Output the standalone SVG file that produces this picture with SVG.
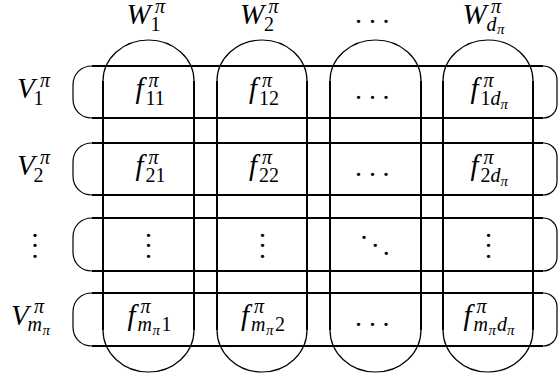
<svg xmlns="http://www.w3.org/2000/svg" width="558" height="378" viewBox="0 0 558 378">
<style>
.ln{stroke:#000;stroke-width:2;fill:none}
.cv{stroke:#000;stroke-width:1.2;fill:none}
text{font-family:"Liberation Serif","Times New Roman",serif;fill:#000}
.m{font-size:29px;font-style:italic}
.s{font-size:20px;font-style:italic}
.d{font-size:20px}
.ss{font-size:15px;font-style:italic}
.dot{font-size:28px;text-anchor:middle}
</style>
<rect width="558" height="378" fill="#fff"/>
<g id="connectors">
<g id="row1"><path class="ln" d="M92,66H543M92,118H543"/><path class="cv" d="M92,66C81,66 73,74 73,85V99C73,110 81,118 92,118M543,66C551,66 557,72 557,80V104C557,112 551,118 543,118"/></g>
<g id="row2"><path class="ln" d="M92,143H543M92,195H543"/><path class="cv" d="M92,143C81,143 73,151 73,162V176C73,187 81,195 92,195M543,143C551,143 557,149 557,157V181C557,189 551,195 543,195"/></g>
<g id="row3"><path class="ln" d="M92,218H543M92,271H543"/><path class="cv" d="M92,218C81,218 73,226 73,237V252C73,263 81,271 92,271M543,218C551,218 557,224 557,232V257C557,265 551,271 543,271"/></g>
<g id="row4"><path class="ln" d="M92,293H543M92,346H543"/><path class="cv" d="M92,293C81,293 73,301 73,312V327C73,338 81,346 92,346M543,293C551,293 557,299 557,307V332C557,340 551,346 543,346"/></g>
<g id="col1"><path class="ln" d="M103,81V330M194,81V330"/><path class="cv" d="M103,81A45.5,41 0 0 1 194,81M103,330A45.5,42 0 0 0 194,330"/></g>
<g id="col2"><path class="ln" d="M217,81V330M307,81V330"/><path class="cv" d="M217,81A45,41 0 0 1 307,81M217,330A45,42 0 0 0 307,330"/></g>
<g id="col3"><path class="ln" d="M330,81V330M421,81V330"/><path class="cv" d="M330,81A45.5,41 0 0 1 421,81M330,330A45.5,42 0 0 0 421,330"/></g>
<g id="col4"><path class="ln" d="M443,81V330M533,81V330"/><path class="cv" d="M443,81A45,41 0 0 1 533,81M443,330A45,42 0 0 0 533,330"/></g>
</g>
<g id="W1"><text class="m" x="126.5" y="24">W</text><text class="s" x="155" y="13">π</text><text class="d" x="150.5" y="31">1</text></g>
<g id="W2"><text class="m" x="240" y="24">W</text><text class="s" x="268.5" y="13">π</text><text class="d" x="264" y="31">2</text></g>
<g id="Wdots"><text class="dot" y="23"><tspan x="358.5">.</tspan><tspan x="372.5">.</tspan><tspan x="386">.</tspan></text></g>
<g id="Wd"><text class="m" x="462.5" y="24">W</text><text class="s" x="491" y="13">π</text><text class="s" x="486.5" y="31">d</text><text class="ss" x="497" y="34">π</text></g>

<g id="V1"><text class="m" x="17" y="98">V</text><text class="s" x="40" y="87">π</text><text class="d" x="33.5" y="105">1</text></g>
<g id="V2"><text class="m" x="17" y="175">V</text><text class="s" x="40" y="164">π</text><text class="d" x="33.5" y="182">2</text></g>
<g id="Vdots"><text class="dot"><tspan x="35" y="236.5">.</tspan><tspan x="35" y="247">.</tspan><tspan x="35" y="257.5">.</tspan></text></g>
<g id="Vm"><text class="m" x="11" y="324.5">V</text><text class="s" x="34" y="313">π</text><text class="s" x="27.5" y="331">m</text><text class="ss" x="42.5" y="334.5">π</text></g>

<g id="f11"><text class="m" x="135.5" y="98">f</text><text class="s" x="148.5" y="87">π</text><text class="d" x="145.5" y="105">11</text></g>
<g id="f12"><text class="m" x="249" y="98">f</text><text class="s" x="262" y="87">π</text><text class="d" x="259" y="105">12</text></g>
<g id="f1dots"><text class="dot" y="98.5"><tspan x="358.5">.</tspan><tspan x="372.5">.</tspan><tspan x="386">.</tspan></text></g>
<g id="f1d"><text class="m" x="470.5" y="98">f</text><text class="s" x="483.5" y="87">π</text><text class="d" x="480.5" y="105">1</text><text class="s" x="490.5" y="105">d</text><text class="ss" x="500.5" y="108.5">π</text></g>

<g id="f21"><text class="m" x="135.5" y="175">f</text><text class="s" x="148.5" y="164">π</text><text class="d" x="145.5" y="182">21</text></g>
<g id="f22"><text class="m" x="249" y="175">f</text><text class="s" x="262" y="164">π</text><text class="d" x="259" y="182">22</text></g>
<g id="f2dots"><text class="dot" y="175.5"><tspan x="358.5">.</tspan><tspan x="372.5">.</tspan><tspan x="386">.</tspan></text></g>
<g id="f2d"><text class="m" x="470.5" y="175">f</text><text class="s" x="483.5" y="164">π</text><text class="d" x="480.5" y="182">2</text><text class="s" x="490.5" y="182">d</text><text class="ss" x="500.5" y="185.5">π</text></g>

<g id="r3c1"><text class="dot"><tspan x="148.5" y="236.5">.</tspan><tspan x="148.5" y="247">.</tspan><tspan x="148.5" y="257.5">.</tspan></text></g>
<g id="r3c2"><text class="dot"><tspan x="262.5" y="236.5">.</tspan><tspan x="262.5" y="247">.</tspan><tspan x="262.5" y="257.5">.</tspan></text></g>
<g id="r3c3"><text class="dot"><tspan x="364" y="238.8">.</tspan><tspan x="375.3" y="246.8">.</tspan><tspan x="386.3" y="254.8">.</tspan></text></g>
<g id="r3c4"><text class="dot"><tspan x="488.5" y="236.5">.</tspan><tspan x="488.5" y="247">.</tspan><tspan x="488.5" y="257.5">.</tspan></text></g>

<g id="fm1"><text class="m" x="127.5" y="324.5">f</text><text class="s" x="140.5" y="313">π</text><text class="s" x="137.5" y="331">m</text><text class="ss" x="152.5" y="334.5">π</text><text class="d" x="161.5" y="331">1</text></g>
<g id="fm2"><text class="m" x="241" y="324.5">f</text><text class="s" x="254" y="313">π</text><text class="s" x="251" y="331">m</text><text class="ss" x="266" y="334.5">π</text><text class="d" x="275" y="331">2</text></g>
<g id="f4dots"><text class="dot" y="326"><tspan x="358.5">.</tspan><tspan x="372.5">.</tspan><tspan x="386">.</tspan></text></g>
<g id="fmd"><text class="m" x="463.5" y="324.5">f</text><text class="s" x="476.5" y="313">π</text><text class="s" x="473.5" y="331">m</text><text class="ss" x="488.5" y="334.5">π</text><text class="s" x="497" y="331">d</text><text class="ss" x="507" y="334.5">π</text></g>
</svg>
